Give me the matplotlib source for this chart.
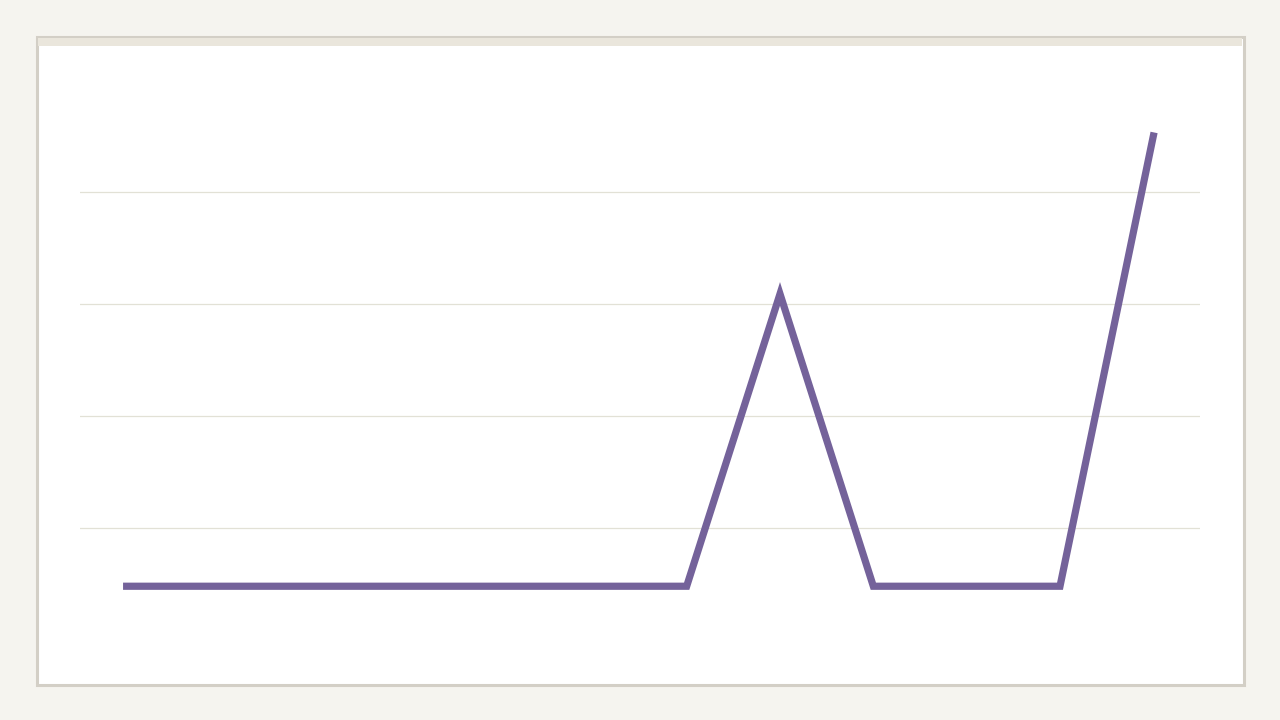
import matplotlib.pyplot as plt
from matplotlib.patches import Rectangle
import numpy as np

# data (12 categories, no labels shown)
categories = list(range(12))
values = [0.48, 0.48, 0.48, 0.48, 0.48, 0.48, 0.48, 3.09, 0.48, 0.48, 0.48, 4.50]

W, H = 1280, 720
fig = plt.figure(figsize=(W / 100, H / 100), dpi=100)
fig.patch.set_facecolor("#F5F4EF")

# card with border and top strip
card = Rectangle((36.5 / W, 1 - 684.5 / H), 1207 / W, 648 / H, transform=fig.transFigure,
                 facecolor="white", edgecolor="#D3CFC6", linewidth=2.2, zorder=-2)
fig.patches.append(card)
strip = Rectangle((38 / W, 1 - 45.5 / H), 1204 / W, 7.5 / H, transform=fig.transFigure,
                  facecolor="#EAE6DC", edgecolor="none", zorder=-1)
fig.patches.append(strip)

ax = fig.add_axes([80 / W, 80 / H, 1120 / W, 560 / H])
ax.set_zorder(2)
ax.set_facecolor("none")
x = np.arange(len(categories))
ax.plot(x, values, color="#74629A", linewidth=5.2,
        solid_capstyle="projecting", solid_joinstyle="miter", zorder=3)

ax.set_xlim(-0.5, len(categories) - 0.5)
ax.set_ylim(0, 5)
ax.set_yticks([1, 2, 3, 4])
ax.set_xticks([])
ax.tick_params(axis="y", length=0, labelleft=False)
ax.grid(axis="y", color="#E2E1D6", linewidth=0.9, zorder=0)
for s in ax.spines.values():
    s.set_visible(False)

fig.savefig("out.png", dpi=100, facecolor=fig.get_facecolor())
